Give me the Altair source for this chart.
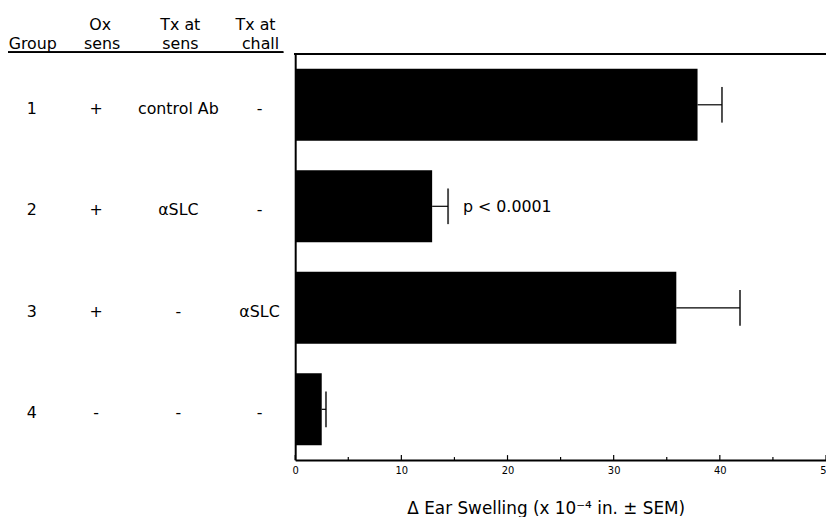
import altair as alt
import pandas as pd

groups = ["1", "2", "3", "4"]
ox_sens = ["+", "+", "+", "-"]
tx_sens = ["control Ab", "\u03b1SLC", "-", "-"]
tx_chall = ["-", "-", "\u03b1SLC", "-"]
swelling = [37.9, 12.9, 35.9, 2.5]
sem = [2.3, 1.5, 6.0, 0.4]
notes = ["", "p < 0.0001", "", ""]
major_ticks = [0, 10, 20, 30, 40, 50]
minor_ticks = [5, 15, 25, 35, 45]

W, H = 536, 410
FONT = "DejaVu Sans"
FS = 16

df = pd.DataFrame({
    "group": groups, "ox": ox_sens, "txs": tx_sens, "txc": tx_chall,
    "val": swelling, "sem": sem, "note": notes,
})
df["hi"] = df["val"] + df["sem"]

major_df = pd.DataFrame({"t": major_ticks})
minor_df = pd.DataFrame({"t": minor_ticks})

xscale = alt.Scale(domain=[0, 50], nice=False, zero=True)
yscale = alt.Scale(domain=groups, paddingInner=0.29, paddingOuter=0.145)

base = alt.Chart(df)

bars = base.mark_bar(color="black").encode(
    x=alt.X("val:Q", scale=xscale,
            axis=alt.Axis(values=major_ticks, ticks=False, grid=False, labelFlush=False,
                          labelFont=FONT, labelFontSize=10, labelColor="black",
                          labelPadding=6, domainColor="black", domainWidth=2,
                          title="\u0394 Ear Swelling (x 10\u207b\u2074  in. \u00b1 SEM)",
                          titleFont=FONT, titleFontSize=17, titleFontWeight="normal",
                          titleColor="black", titlePadding=25, titleX=253,
                          titleAlign="center", titleAnchor="start")),
    y=alt.Y("group:N", scale=yscale,
            axis=alt.Axis(labels=False, ticks=False, title=None, grid=False,
                          domainColor="black", domainWidth=2)),
)

whisk = base.mark_rule(color="black", strokeWidth=1.2).encode(
    x="val:Q", x2="hi:Q", y="group:N")
caps = base.mark_tick(color="black", thickness=2, size=36, orient="vertical").encode(
    x="hi:Q", y="group:N")
note = base.mark_text(font=FONT, fontSize=16, align="left", baseline="middle", dx=15, dy=1,
                      color="black").encode(x="hi:Q", y="group:N", text="note:N")

def col(field, xpos):
    return base.mark_text(font=FONT, fontSize=FS, align="center", baseline="middle",
                          dy=4, color="black").encode(
        x=alt.value(xpos), y="group:N", text=f"{field}:N")

table = col("group", -266) + col("ox", -201) + col("txs", -118) + col("txc", -36)

hdr_df = pd.DataFrame({
    "label": ["Group", "Ox", "sens", "Tx at", "sens", "Tx at", "chall"],
    "px": [-265, -197, -195, -116, -116, -40, -35],
    "py": [-10, -29, -10, -29, -10, -29, -10],
})
header = alt.Chart(hdr_df).mark_text(font=FONT, fontSize=FS, align="center",
                                     baseline="middle", color="black").encode(
    x=alt.X("px:Q", scale=None), y=alt.Y("py:Q", scale=None), text="label:N")

underline = alt.Chart(df).mark_rule(color="black", strokeWidth=1.2).encode(
    x=alt.value(-294), x2=alt.value(-12), y=alt.value(-2))
topline = alt.Chart(df).mark_rule(color="black", strokeWidth=1.5).encode(
    x=alt.value(-1), x2=alt.value(W), y=alt.value(0))

major_marks = alt.Chart(major_df).mark_rule(color="black", strokeWidth=1.2).encode(
    x=alt.X("t:Q", scale=xscale), y=alt.value(H), y2=alt.value(H - 5))
minor_marks = alt.Chart(minor_df).mark_rule(color="black", strokeWidth=1.2).encode(
    x=alt.X("t:Q", scale=xscale), y=alt.value(H), y2=alt.value(H - 3))

chart = alt.layer(
    bars, whisk, caps, note, table, header, underline, topline, major_marks, minor_marks
).properties(
    width=W, height=H,
    autosize=alt.AutoSizeParams(type="none"),
    padding={"left": 290, "top": 44, "right": 0, "bottom": 55},
).configure_view(stroke=None).configure(background="white")

chart.save("out.html", embed_options={"renderer": "svg", "actions": False})
